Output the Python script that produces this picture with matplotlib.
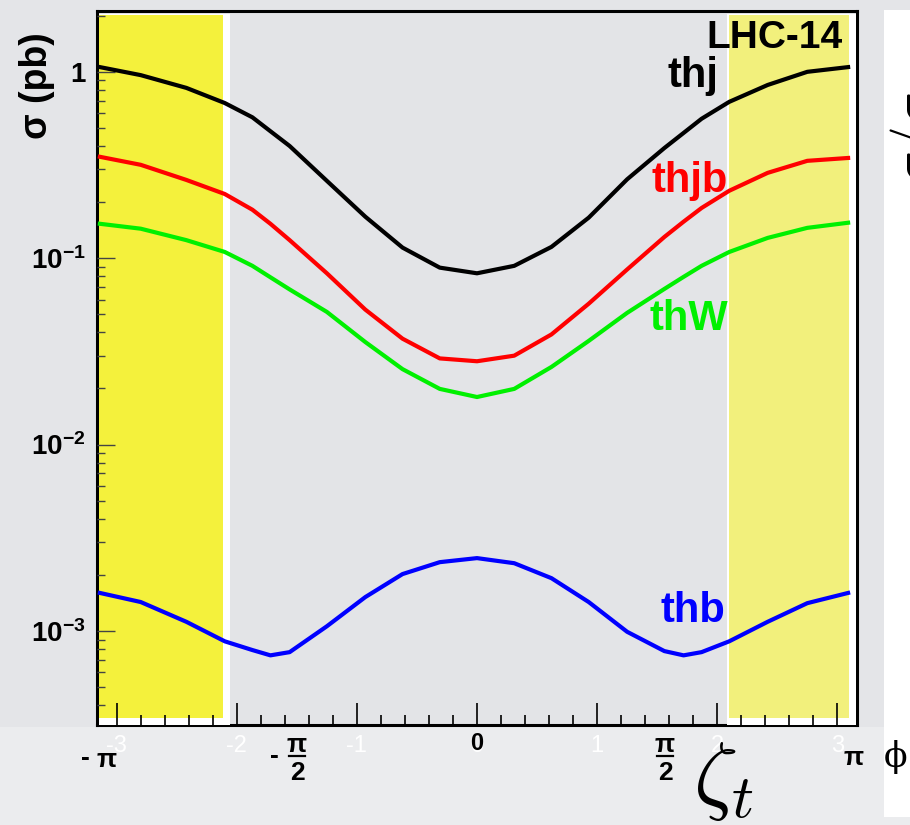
import matplotlib
matplotlib.use("Agg")
import matplotlib.pyplot as plt
from matplotlib.patches import Rectangle
from matplotlib.lines import Line2D
from matplotlib.ticker import LogLocator, MultipleLocator, NullFormatter
from matplotlib.transforms import blended_transform_factory


OUT_PATH = "out.png"
FIG_W, FIG_H = 910, 825  # pixels, dpi 100

# CP phase zeta_t (rad) at which the curves were read
ZETA = [-3.14, -2.80, -2.42, -2.10, -1.87, -1.72, -1.56, -1.25, -0.93, -0.62, -0.31, 0.0,
        0.31, 0.62, 0.93, 1.25, 1.56, 1.72, 1.87, 2.10, 2.42, 2.75, 3.09]

# cross sections in pb
SIGMA_THJ = [1.06, 0.96, 0.82, 0.68, 0.57, 0.48, 0.40, 0.26, 0.167, 0.114, 0.089, 0.083,
             0.091, 0.115, 0.165, 0.265, 0.39, 0.47, 0.56, 0.69, 0.85, 1.0, 1.06]
SIGMA_THJB = [0.35, 0.317, 0.263, 0.221, 0.182, 0.153, 0.125, 0.083, 0.053, 0.037, 0.029, 0.028,
              0.030, 0.039, 0.057, 0.087, 0.130, 0.157, 0.186, 0.23, 0.287, 0.333, 0.345]
SIGMA_THW = [0.153, 0.144, 0.125, 0.108, 0.091, 0.079, 0.068, 0.0515, 0.0355, 0.0254, 0.0199, 0.018,
             0.0199, 0.0261, 0.036, 0.0509, 0.0684, 0.0794, 0.091, 0.108, 0.1285, 0.1455, 0.155]
SIGMA_THB = [1.60e-3, 1.43e-3, 1.12e-3, 8.8e-4, 7.9e-4, 7.4e-4, 7.7e-4, 1.06e-3, 1.52e-3, 2.02e-3,
             2.34e-3, 2.46e-3, 2.31e-3, 1.92e-3, 1.43e-3, 9.9e-4, 7.8e-4, 7.4e-4, 7.7e-4, 8.8e-4,
             1.12e-3, 1.41e-3, 1.60e-3]

CHANNELS = ["thj", "thjb", "thW", "thb"]
COLORS = ["black", "#ff0000", "#00f000", "#0000ff"]

# excluded zeta_t regions (yellow) and the white boxes behind them
BANDS = [(-3.147, -2.115), (2.098, 3.097)]
BAND_BOXES = [(-3.150, -2.057), (2.082, 3.155)]
BAND_COLORS = ["#f4f13c", "#f2f07c"]

X_RANGE = (-3.164, 3.164)
Y_RANGE = (3.13e-4, 2.12)

Y_TICKS = [1e-3, 1e-2, 1e-1, 1]
Y_TICK_LABELS = [r"$\mathbf{10^{-3}}$", r"$\mathbf{10^{-2}}$", r"$\mathbf{10^{-1}}$", "1"]


def px(x, y):
    """pixel position (from top-left) -> figure fraction"""
    return x / FIG_W, 1 - y / FIG_H


def frac_pi2(fig, xc, sign=""):
    # ROOT-style #frac{#pi}{2}
    fig.text(*px(xc, 752), "π", ha="center", va="baseline", fontsize=19, fontweight="bold")
    fig.text(*px(xc, 780), "2", ha="center", va="baseline", fontsize=19, fontweight="bold")
    x0, y0 = px(xc - 8, 756)
    x1, _ = px(xc + 8, 756)
    fig.add_artist(Line2D([x0, x1], [y0, y0], color="black", lw=1.6))
    if sign:
        fig.text(*px(xc - 23, 763), sign, ha="center", va="baseline", fontsize=19, fontweight="bold")


def main():
    plt.rcParams["font.family"] = ["Liberation Sans", "DejaVu Sans"]
    plt.rcParams["mathtext.fontset"] = "custom"
    plt.rcParams["mathtext.rm"] = "Liberation Sans"
    plt.rcParams["mathtext.bf"] = "Liberation Sans:bold"
    plt.rcParams["mathtext.it"] = "Liberation Sans:italic"
    plt.rcParams["axes.unicode_minus"] = False

    fig = plt.figure(figsize=(FIG_W / 100, FIG_H / 100), dpi=100, facecolor="#e4e5e8")

    # lighter strip under the frame, white panel on the right edge
    fig.add_artist(Rectangle((0, 0), 1, (FIG_H - 727) / FIG_H, transform=fig.transFigure,
                             facecolor="#ebecee", edgecolor="none", zorder=0))
    fig.add_artist(Rectangle(px(884, 817), (910 - 884) / FIG_W, (817 - 10) / FIG_H,
                             transform=fig.transFigure, facecolor="white", edgecolor="none", zorder=0.5))

    ax = fig.add_axes([97 / FIG_W, 1 - 725 / FIG_H, 760 / FIG_W, 714 / FIG_H])
    ax.set_facecolor("#e3e4e7")
    ax.set_yscale("log")
    ax.set_xlim(*X_RANGE)
    ax.set_ylim(*Y_RANGE)

    trans = blended_transform_factory(ax.transData, ax.transAxes)
    for (b0, b1), (w0, w1), col in zip(BANDS, BAND_BOXES, BAND_COLORS):
        ax.add_patch(Rectangle((w0, 0), w1 - w0, 0.996, transform=trans,
                               facecolor="white", edgecolor="none", zorder=2.6))
        ax.add_patch(Rectangle((b0, 0.010), b1 - b0, 0.984, transform=trans,
                               facecolor=col, edgecolor="none", zorder=2.65))

    for sigma, col in zip([SIGMA_THJ, SIGMA_THJB, SIGMA_THW, SIGMA_THB], COLORS):
        ax.plot(ZETA, sigma, color=col, lw=3.0, zorder=3, solid_joinstyle="round")

    for sp in ax.spines.values():
        sp.set_linewidth(2.2)
        sp.set_color("black")

    # ticks
    ax.set_xticks(range(-3, 4))
    ax.xaxis.set_minor_locator(MultipleLocator(0.2))
    ax.tick_params(axis="x", which="major", direction="in", length=16, width=1.2,
                   labelcolor="white", labelsize=17, pad=7.5)
    ax.tick_params(axis="x", which="minor", direction="in", length=7.5, width=1.2)
    ax.set_yticks(Y_TICKS)
    ax.set_yticklabels(Y_TICK_LABELS, fontweight="bold")
    ax.yaxis.set_minor_locator(LogLocator(base=10, subs=range(2, 10), numticks=20))
    ax.yaxis.set_minor_formatter(NullFormatter())
    ax.tick_params(axis="y", which="major", direction="in", length=13, width=1.0,
                   color="#444444", labelsize=20, pad=8)
    ax.tick_params(axis="y", which="minor", direction="in", length=5.5, width=1.0, color="#444444")
    ax.xaxis.set_zorder(2.7)
    ax.yaxis.set_zorder(2.7)

    # channel labels
    label_pos = [(718, 87), (728, 192), (728, 330), (725, 622)]
    for name, col, (lx, ly) in zip(CHANNELS, COLORS, label_pos):
        fig.text(*px(lx, ly), name, ha="right", va="baseline", fontsize=30,
                 fontweight="bold", color=col)
    fig.text(*px(843, 48), "LHC-14", ha="right", va="baseline", fontsize=28, fontweight="bold")

    fig.text(*px(37, 86), "σ (pb)", rotation=90, ha="center", va="center",
             fontsize=27, fontweight="bold")

    # hand-made x labels in units of pi
    fig.text(*px(477, 750), "0", ha="center", va="baseline", fontsize=17, fontweight="bold")
    fig.text(*px(85, 765), "-", ha="center", va="baseline", fontsize=19, fontweight="bold")
    fig.text(*px(107, 767), "π", ha="center", va="baseline", fontsize=19, fontweight="bold")
    frac_pi2(fig, 297, sign="-")
    frac_pi2(fig, 665)
    fig.text(*px(854, 765), "π", ha="center", va="baseline", fontsize=19, fontweight="bold")
    fig.text(*px(896, 767), "ϕ", ha="center", va="baseline", fontsize=25, family="DejaVu Serif")

    fig.text(*px(693, 803), r"$\zeta_t$", ha="left", va="baseline", fontsize=63, math_fontfamily="cm")
    fig.text(*px(888, 138), r"$\sigma/\sigma$", rotation=90, ha="left", va="center",
             fontsize=40, math_fontfamily="cm")

    fig.savefig(OUT_PATH, dpi=100, facecolor=fig.get_facecolor())
    plt.close(fig)


if __name__ == "__main__":
    main()
